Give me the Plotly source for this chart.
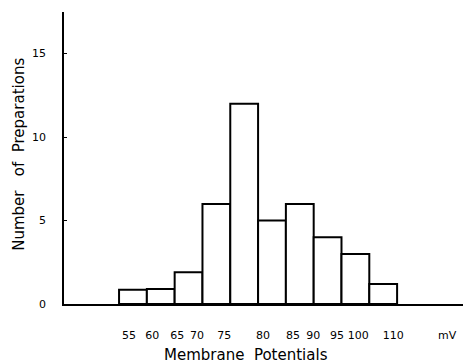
import plotly.graph_objects as go

# Data (bins of membrane potential, mV)
bin_labels = ["55", "60", "65", "70", "75", "80", "85", "90", "95", "100", "110"]
counts = [0.85, 0.9, 1.9, 6, 12, 5, 6, 4, 3, 1.2]
y_ticks = [0, 5, 10, 15]
y_tick_text = ["0", "5", "10", "15"]

# layout helpers (label positions in bin-index units, as hand lettered)
label_pos = [0.36, 1.19, 2.09, 2.8, 3.78, 5.18, 6.26, 6.98, 7.84, 8.6, 9.86]
unit_pos = 11.8

bar_x = [i + 0.5 for i in range(len(counts))]

fig = go.Figure()
fig.add_trace(go.Bar(
    x=bar_x, y=counts, width=1,
    marker=dict(color="white", line=dict(color="black", width=2)),
    showlegend=False, hoverinfo="skip",
))

font_family = "DejaVu Sans, Arial, sans-serif"

annotations = [
    dict(text="Membrane  Potentials", xref="x", yref="paper",
         x=4.57, y=-0.175, xanchor="center", yanchor="middle",
         showarrow=False, font=dict(size=15, family=font_family)),
    dict(text="Number   of  Preparations", xref="paper", yref="paper",
         x=-0.113, y=0.514, xanchor="center", yanchor="middle",
         textangle=-90, showarrow=False,
         font=dict(size=15, family=font_family)),
]
# y tick labels placed left of the axis, as in the reference
for v, t in zip(y_ticks, y_tick_text):
    annotations.append(dict(
        text=t, xref="paper", yref="y", x=-0.04, y=v,
        xanchor="right", yanchor="middle", showarrow=False,
        font=dict(size=11, family=font_family),
    ))

fig.update_layout(
    width=463, height=364,
    margin=dict(l=64, r=0, t=12, b=60),
    paper_bgcolor="white", plot_bgcolor="white",
    bargap=0,
    font=dict(family=font_family, color="black"),
    xaxis=dict(
        range=[-1.98, 12.37],
        tickvals=label_pos + [unit_pos],
        ticktext=bin_labels + ["mV"],
        ticks="", showgrid=False, zeroline=False,
        showline=True, linecolor="black", linewidth=1.5,
        tickfont=dict(size=11, family=font_family),
        ticklabelstandoff=20,
    ),
    yaxis=dict(
        range=[0, 17.5],
        tickvals=y_ticks,
        showticklabels=False,
        ticks="inside", ticklen=3, tickwidth=1, tickcolor="black",
        showgrid=False, zeroline=False,
        showline=True, linecolor="black", linewidth=2,
    ),
    annotations=annotations,
)

fig.write_html(
    "out.html",
    config={"displayModeBar": False, "staticPlot": True},
    post_script="document.body.style.margin='0px';document.body.style.padding='0px';",
)
